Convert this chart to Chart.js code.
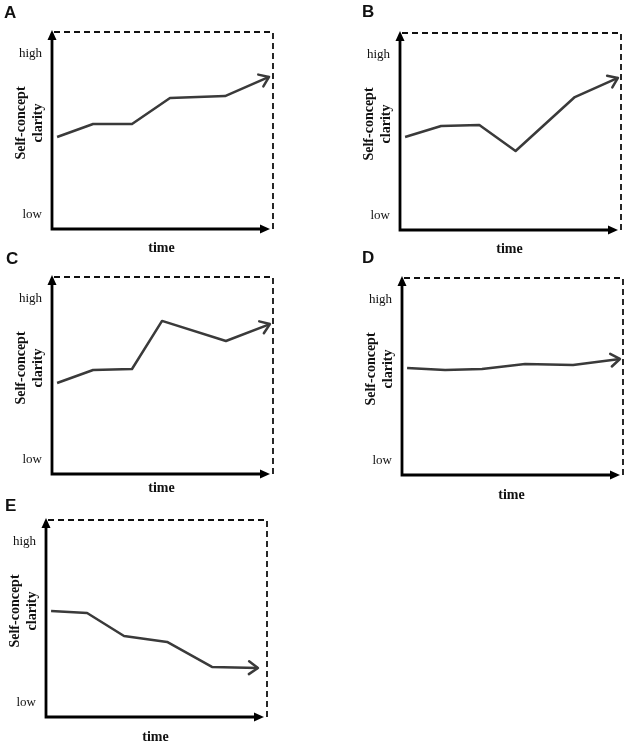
<!DOCTYPE html>
<html>
<head>
<meta charset="utf-8">
<script src="https://cdn.jsdelivr.net/npm/chart.js@4"></script>
<style>
  html, body { margin: 0; padding: 0; background: #fff; }
  body { position: relative; width: 627px; height: 744px; overflow: hidden; }
  canvas { position: absolute; }
</style>
</head>
<body>
<canvas id="pA" width="300" height="260"></canvas>
<canvas id="pB" width="300" height="260"></canvas>
<canvas id="pC" width="300" height="260"></canvas>
<canvas id="pD" width="300" height="260"></canvas>
<canvas id="pE" width="300" height="260"></canvas>
<script>
/* Self-concept clarity trajectories, panels A–E (values on a 0–100 scale) */
const panelLetters = ['A', 'B', 'C', 'D', 'E'];
const timeA = [2.3, 18.6, 36.2, 53.4, 78.3, 98.2];
const clarityA = [46.7, 53.3, 53.3, 66.5, 67.5, 77.2];
const timeB = [2.3, 18.6, 35.9, 52.3, 79.1, 98.6];
const clarityB = [47.2, 52.8, 53.3, 40.1, 67.5, 77.2];
const timeC = [2.3, 18.6, 36.2, 49.8, 78.7, 98.6];
const clarityC = [46.2, 52.8, 53.3, 77.7, 67.5, 76.1];
const timeD = [2.3, 19.5, 36.2, 55.7, 77.4, 98.6];
const clarityD = [54.3, 53.3, 53.8, 56.3, 55.8, 58.9];
const timeE = [2.3, 18.6, 35.3, 54.8, 75.1, 95.9];
const clarityE = [53.8, 52.8, 41.1, 38.1, 25.4, 24.9];
const yLabels = ['high', 'low'];
const yTitle = ['Self-concept', 'clarity'];
const xTitle = 'time';

// page position of each plot's top-left corner, and of its letter
const LAYOUT = {
  A: { ax: 52, top: 32, lx: 4, ly: 18, timeGap: 19 },
  B: { ax: 400, top: 33, lx: 362, ly: 17, timeGap: 19 },
  C: { ax: 52, top: 277, lx: 6, ly: 264, timeGap: 14 },
  D: { ax: 402, top: 278, lx: 362, ly: 263, timeGap: 20 },
  E: { ax: 46, top: 520, lx: 5, ly: 511, timeGap: 20 },
};
const PAD = { left: 52, top: 32, right: 27, bottom: 31 };
const LINE_COLOR = '#3a3a3a';

function filledArrow(ctx, tx, ty, dx, dy, len, half) {
  const px = -dy, py = dx;
  ctx.beginPath();
  ctx.moveTo(tx, ty);
  ctx.lineTo(tx - dx * len + px * half, ty - dy * len + py * half);
  ctx.lineTo(tx - dx * len - px * half, ty - dy * len - py * half);
  ctx.closePath();
  ctx.fill();
}

const sketchPlugin = {
  id: 'sketch',
  beforeDatasetsDraw(chart, args, opts) {
    const { ctx, chartArea: a } = chart;
    ctx.save();
    // dashed frame, top and right
    ctx.strokeStyle = '#111';
    ctx.lineWidth = 1.8;
    ctx.setLineDash([6, 4]);
    ctx.beginPath();
    ctx.moveTo(a.left + 2, a.top);
    ctx.lineTo(a.right, a.top);
    ctx.lineTo(a.right, a.bottom);
    ctx.stroke();
    ctx.setLineDash([]);

    // solid axes with arrow heads
    ctx.strokeStyle = '#000';
    ctx.fillStyle = '#000';
    ctx.lineWidth = 2.8;
    ctx.beginPath();
    ctx.moveTo(a.left, a.bottom);
    ctx.lineTo(a.left, a.top + 6);
    ctx.moveTo(a.left - 1.4, a.bottom);
    ctx.lineTo(a.right - 10, a.bottom);
    ctx.stroke();
    filledArrow(ctx, a.left, a.top - 2, 0, -1, 10, 4.5);
    filledArrow(ctx, a.right - 3, a.bottom, 1, 0, 10, 4.5);

    // text
    ctx.fillStyle = '#111';
    ctx.font = '13px "Liberation Serif", serif';
    ctx.textAlign = 'right';
    ctx.textBaseline = 'middle';
    ctx.fillText(yLabels[0], a.left - 10, a.top + 22);
    ctx.fillText(yLabels[1], a.left - 10, a.bottom - 14);

    ctx.font = 'bold 14px "Liberation Serif", serif';
    ctx.textAlign = 'center';
    [-31, -14].forEach((off, i) => {
      ctx.save();
      ctx.translate(a.left + off, a.top + 91);
      ctx.rotate(-Math.PI / 2);
      ctx.fillText(yTitle[i], 0, 0);
      ctx.restore();
    });
    ctx.fillText(xTitle, (a.left + a.right) / 2 - 1, a.bottom + opts.timeGap);

    ctx.font = 'bold 17px "Liberation Sans", Arial, sans-serif';
    ctx.textAlign = 'left';
    ctx.textBaseline = 'alphabetic';
    ctx.fillText(opts.letter, opts.lx, opts.ly);
    ctx.restore();
  },
  afterDatasetsDraw(chart) {
    // open arrow head at the end of the trajectory
    const pts = chart.getDatasetMeta(0).data;
    const p1 = pts[pts.length - 2], p2 = pts[pts.length - 1];
    const ang = Math.atan2(p2.y - p1.y, p2.x - p1.x);
    const { ctx } = chart;
    ctx.save();
    ctx.strokeStyle = LINE_COLOR;
    ctx.lineWidth = 2.5;
    ctx.lineCap = 'round';
    ctx.lineJoin = 'round';
    ctx.beginPath();
    const L = 11, spread = 0.62;
    ctx.moveTo(p2.x - L * Math.cos(ang - spread), p2.y - L * Math.sin(ang - spread));
    ctx.lineTo(p2.x, p2.y);
    ctx.lineTo(p2.x - L * Math.cos(ang + spread), p2.y - L * Math.sin(ang + spread));
    ctx.stroke();
    ctx.restore();
  },
};

function makePanel(letter, xs, ys) {
  const L = LAYOUT[letter];
  const cx = L.ax - PAD.left, cy = L.top - PAD.top;
  const el = document.getElementById('p' + letter);
  el.style.left = cx + 'px';
  el.style.top = cy + 'px';
  new Chart(el, {
    type: 'line',
    data: {
      datasets: [{
        data: xs.map((x, i) => ({ x, y: ys[i] })),
        borderColor: LINE_COLOR,
        borderWidth: 2.5,
        pointRadius: 0,
        tension: 0,
        fill: false,
        clip: false,
        borderJoinStyle: 'round',
      }],
    },
    options: {
      responsive: false,
      animation: false,
      devicePixelRatio: 1,
      layout: { padding: PAD },
      events: [],
      scales: {
        x: { type: 'linear', min: 0, max: 100, display: false },
        y: { type: 'linear', min: 0, max: 100, display: false },
      },
      plugins: {
        legend: { display: false },
        tooltip: { enabled: false },
        sketch: { letter, lx: L.lx - cx, ly: L.ly - cy, timeGap: L.timeGap },
      },
    },
    plugins: [sketchPlugin],
  });
}

makePanel('A', timeA, clarityA);
makePanel('B', timeB, clarityB);
makePanel('C', timeC, clarityC);
makePanel('D', timeD, clarityD);
makePanel('E', timeE, clarityE);
</script>
</body>
</html>
